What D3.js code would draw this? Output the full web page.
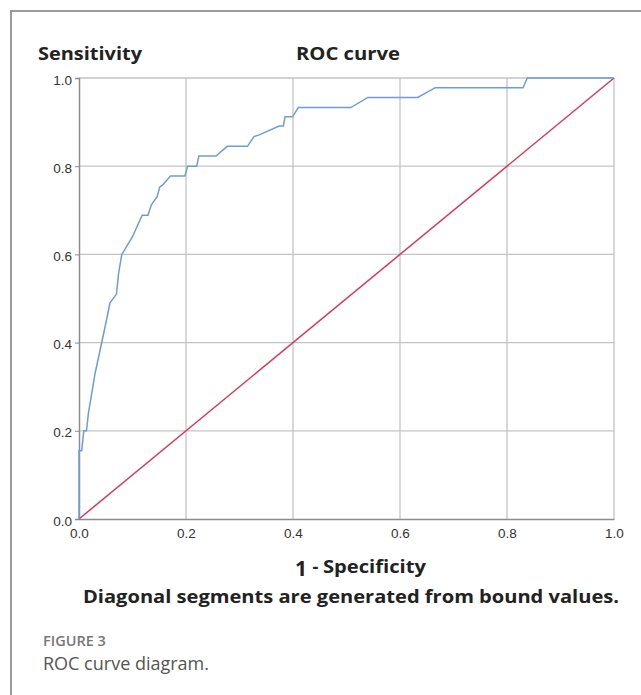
<!DOCTYPE html>
<html>
<head>
<meta charset="utf-8">
<script src="https://cdn.jsdelivr.net/npm/d3@7"></script>
<style>
  body { margin: 0; background: #fff; }
  svg { display: block; }
</style>
</head>
<body>
<svg id="chart" width="641" height="695"></svg>
<script>
// ROC curve (1 - specificity, sensitivity)
var fpr = [0, 0, 0.005, 0.009, 0.014, 0.0175, 0.03, 0.046, 0.058, 0.07,
    0.074, 0.08, 0.1, 0.118, 0.129, 0.135, 0.146, 0.151, 0.156, 0.171,
    0.198, 0.203, 0.22, 0.224, 0.256, 0.277, 0.315, 0.327, 0.337, 0.374,
    0.382, 0.385, 0.399, 0.41, 0.508, 0.54, 0.633, 0.666, 0.83, 0.838, 1.0];
var tpr = [0, 0.155, 0.155, 0.2, 0.2, 0.239, 0.33, 0.42, 0.49, 0.51,
    0.557, 0.6, 0.64, 0.689, 0.689, 0.712, 0.731, 0.753, 0.757, 0.778,
    0.778, 0.80, 0.80, 0.823, 0.823, 0.845, 0.845, 0.867, 0.871, 0.891,
    0.891, 0.912, 0.912, 0.933, 0.933, 0.956, 0.956, 0.978, 0.978, 1.0, 1.0];
var refX = [0, 1];
var refY = [0, 1];
var tickVals = [0, 0.2, 0.4, 0.6, 0.8, 1.0];

var svg = d3.select('#chart');

// outer frame (only left and top visible)
svg.append('path')
    .attr('d', 'M11,695 L11,11 L641,11')
    .attr('fill', 'none')
    .attr('stroke', '#9a9a9a')
    .attr('stroke-width', 2);

var pLeft = 79, pRight = 614, pTop = 78, pBottom = 519;
var x = d3.scaleLinear().domain([0, 1]).range([pLeft, pRight]);
var y = d3.scaleLinear().domain([0, 1]).range([pBottom, pTop]);

// grid
var grid = svg.append('g');
grid.selectAll('line.v').data(tickVals.slice(1)).enter().append('line')
    .attr('x1', function (d) { return x(d); })
    .attr('x2', function (d) { return x(d); })
    .attr('y1', pTop).attr('y2', pBottom)
    .attr('stroke', '#c4c4c4').attr('stroke-width', 1.3);
grid.selectAll('line.h').data(tickVals.slice(1)).enter().append('line')
    .attr('y1', function (d) { return y(d); })
    .attr('y2', function (d) { return y(d); })
    .attr('x1', pLeft).attr('x2', pRight)
    .attr('stroke', '#c4c4c4').attr('stroke-width', 1.3);

// axes
var xAxis = d3.axisBottom(x).tickValues(tickVals).tickFormat(d3.format('.1f')).tickSize(0).tickPadding(8);
var yAxis = d3.axisLeft(y).tickValues(tickVals).tickFormat(d3.format('.1f')).tickSize(4).tickPadding(3);

var gx = svg.append('g').attr('transform', 'translate(0,' + pBottom + ')').call(xAxis);
var gy = svg.append('g').attr('transform', 'translate(' + pLeft + ',0)').call(yAxis);
[gx, gy].forEach(function (g) {
    g.select('.domain').attr('stroke', '#8c8c8c').attr('stroke-width', 1.5);
    g.selectAll('.tick line').attr('stroke', '#8c8c8c');
    g.selectAll('.tick text')
        .attr('fill', '#333')
        .style('font-family', '"Liberation Sans", Arial, sans-serif')
        .style('font-size', '13.5px');
});
gy.selectAll('.tick text').attr('dy', '0.45em');
gx.selectAll('.tick text').attr('dy', '0.85em');

// reference diagonal
var line = d3.line()
    .x(function (d) { return x(d[0]); })
    .y(function (d) { return y(d[1]); });

svg.append('path')
    .datum(d3.zip(refX, refY))
    .attr('d', line)
    .attr('fill', 'none')
    .attr('stroke', '#d8395f')
    .attr('stroke-width', 1.5);

// ROC curve
svg.append('path')
    .datum(d3.zip(fpr, tpr))
    .attr('d', line)
    .attr('fill', 'none')
    .attr('stroke', '#6d9dd6')
    .attr('stroke-width', 1.5);

// titles
var bold = '"Open Sans", "DejaVu Sans", sans-serif';
svg.append('text').attr('x', 38).attr('y', 60)
    .attr('textLength', 104).attr('lengthAdjust', 'spacingAndGlyphs')
    .style('font-family', bold).style('font-weight', 700).style('font-size', '18px')
    .attr('fill', '#222').text('Sensitivity');
svg.append('text').attr('x', 296).attr('y', 60)
    .attr('textLength', 104).attr('lengthAdjust', 'spacingAndGlyphs')
    .style('font-family', bold).style('font-weight', 700).style('font-size', '18px')
    .attr('fill', '#222').text('ROC curve');

var xt = svg.append('text').attr('x', 295).attr('y', 576)
    .style('font-family', bold).style('font-weight', 700).attr('fill', '#222');
xt.append('tspan').style('font-size', '21px').text('1 ');
xt.append('tspan').style('font-size', '18px').attr('dy', -3).text('- ');
xt.append('tspan').style('font-size', '18px')
    .attr('textLength', 103).attr('lengthAdjust', 'spacingAndGlyphs').text('Specificity');

svg.append('text').attr('x', 83).attr('y', 603)
    .attr('textLength', 536).attr('lengthAdjust', 'spacingAndGlyphs')
    .style('font-family', bold).style('font-weight', 700).style('font-size', '17px')
    .attr('fill', '#222').text('Diagonal segments are generated from bound values.');

// caption
svg.append('text').attr('x', 43).attr('y', 646)
    .style('font-family', '"Open Sans", sans-serif').style('font-weight', 600).style('font-size', '14.5px')
    .attr('fill', '#777').text('FIGURE 3');
svg.append('text').attr('x', 43).attr('y', 670)
    .style('font-family', '"Open Sans", sans-serif').style('font-weight', 400).style('font-size', '18px')
    .attr('fill', '#555').text('ROC curve diagram.');
</script>
</body>
</html>
